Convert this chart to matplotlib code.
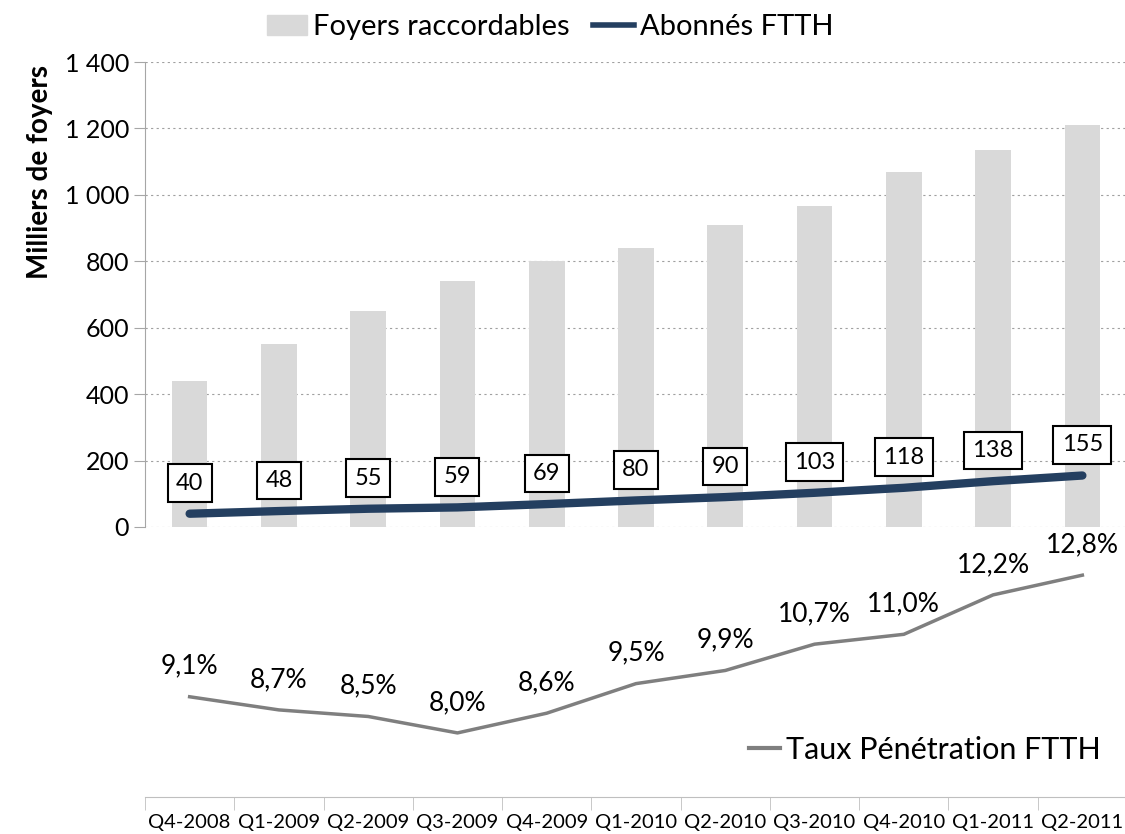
import numpy as np
import matplotlib
matplotlib.use('Agg')
from matplotlib import pyplot as plt
from matplotlib.lines import Line2D
from matplotlib.patches import Patch
from matplotlib.ticker import FuncFormatter, FixedLocator

plt.rcParams['font.family'] = ['Lato', 'DejaVu Sans']

quarters = ['Q4-2008', 'Q1-2009', 'Q2-2009', 'Q3-2009', 'Q4-2009', 'Q1-2010',
            'Q2-2010', 'Q3-2010', 'Q4-2010', 'Q1-2011', 'Q2-2011']
foyers = [440, 550, 650, 740, 800, 840, 910, 965, 1070, 1135, 1210]
abonnes = [40, 48, 55, 59, 69, 80, 90, 103, 118, 138, 155]
taux = [9.1, 8.7, 8.5, 8.0, 8.6, 9.5, 9.9, 10.7, 11.0, 12.2, 12.8]

W, H = 1125, 834
fig = plt.figure(figsize=(W / 100, H / 100), dpi=100)

def frac(x0, y0, x1, y1):
    # pixel box -> figure fraction [left, bottom, width, height]
    return [x0 / W, 1 - y1 / H, (x1 - x0) / W, (y1 - y0) / H]

x = np.arange(len(quarters))
grey_axis = '#a6a6a6'

# ---- top chart : bars + subscribers line
ax = fig.add_axes(frac(145, 62, 1127, 527))
ax.bar(x, foyers, width=0.4, color='#d9d9d9', zorder=1)
ax.plot(x, abonnes, color='#243f60', lw=6, solid_capstyle='round', zorder=3)
for xi, v in zip(x, abonnes):
    ax.annotate(str(v), (xi, v), xytext=(0, 22), textcoords='offset points',
                ha='center', va='center', fontsize=17,
                bbox=dict(boxstyle='square,pad=0.35', fc='white', ec='black', lw=1.5),
                zorder=4)
ax.set_xlim(-0.5, len(quarters) - 0.5)
ax.set_ylim(0, 1400)
ax.yaxis.set_major_locator(FixedLocator(range(0, 1401, 200)))
ax.yaxis.set_major_formatter(FuncFormatter(lambda v, p: '{:,}'.format(int(v)).replace(',', ' ')))
ax.grid(axis='y', color='#a0a0a0', ls=(0, (2, 3)), lw=0.8)
ax.set_axisbelow(True)
ax.set_xticks([])
for s in ['top', 'right', 'bottom']:
    ax.spines[s].set_visible(False)
ax.spines['left'].set_color(grey_axis)
ax.tick_params(axis='y', colors=grey_axis, labelcolor='black', labelsize=18, length=8)
fig.text(40 / W, 1 - 172 / H, 'Milliers de foyers', rotation=90, ha='center', va='center',
         fontsize=20, fontweight='bold')

fig.legend(handles=[Patch(color='#d9d9d9', label='Foyers raccordables'),
                    Line2D([], [], color='#243f60', lw=4, label='Abonnés FTTH')],
           loc='center', bbox_to_anchor=(550 / W, 1 - 27 / H), ncol=2, frameon=False,
           fontsize=21, handlelength=1.4, handletextpad=0.2, columnspacing=0.8)

# ---- bottom chart : penetration rate
ax2 = fig.add_axes(frac(145, 540, 1127, 797))
ax2.plot(x, taux, color='#7f7f7f', lw=2.5)
for xi, v in zip(x, taux):
    ax2.annotate('{:.1f}%'.format(v).replace('.', ','), (xi, v), xytext=(0, 22),
                 textcoords='offset points', ha='center', va='center', fontsize=19)
ax2.set_xlim(-0.5, len(quarters) - 0.5)
ax2.set_ylim(6.05, 13.87)
ax2.set_yticks([])
for s in ['top', 'right', 'left']:
    ax2.spines[s].set_visible(False)
ax2.spines['bottom'].set_color('#bfbfbf')
ax2.set_xticks(x)
ax2.set_xticklabels(quarters, fontsize=14.5)
ax2.set_xticks(np.arange(-0.5, len(quarters)), minor=True)
ax2.tick_params(axis='x', which='major', length=0, pad=12)
ax2.tick_params(axis='x', which='minor', length=9, color='#bfbfbf')
ax2.legend(handles=[Line2D([], [], color='#7f7f7f', lw=3, label='Taux Pénétration FTTH')],
           loc='center', bbox_to_anchor=(925 / W, 1 - 750 / H), bbox_transform=fig.transFigure,
           frameon=False, fontsize=22, handlelength=1.0, handletextpad=0.2)

fig.savefig('out.png', dpi=100)
